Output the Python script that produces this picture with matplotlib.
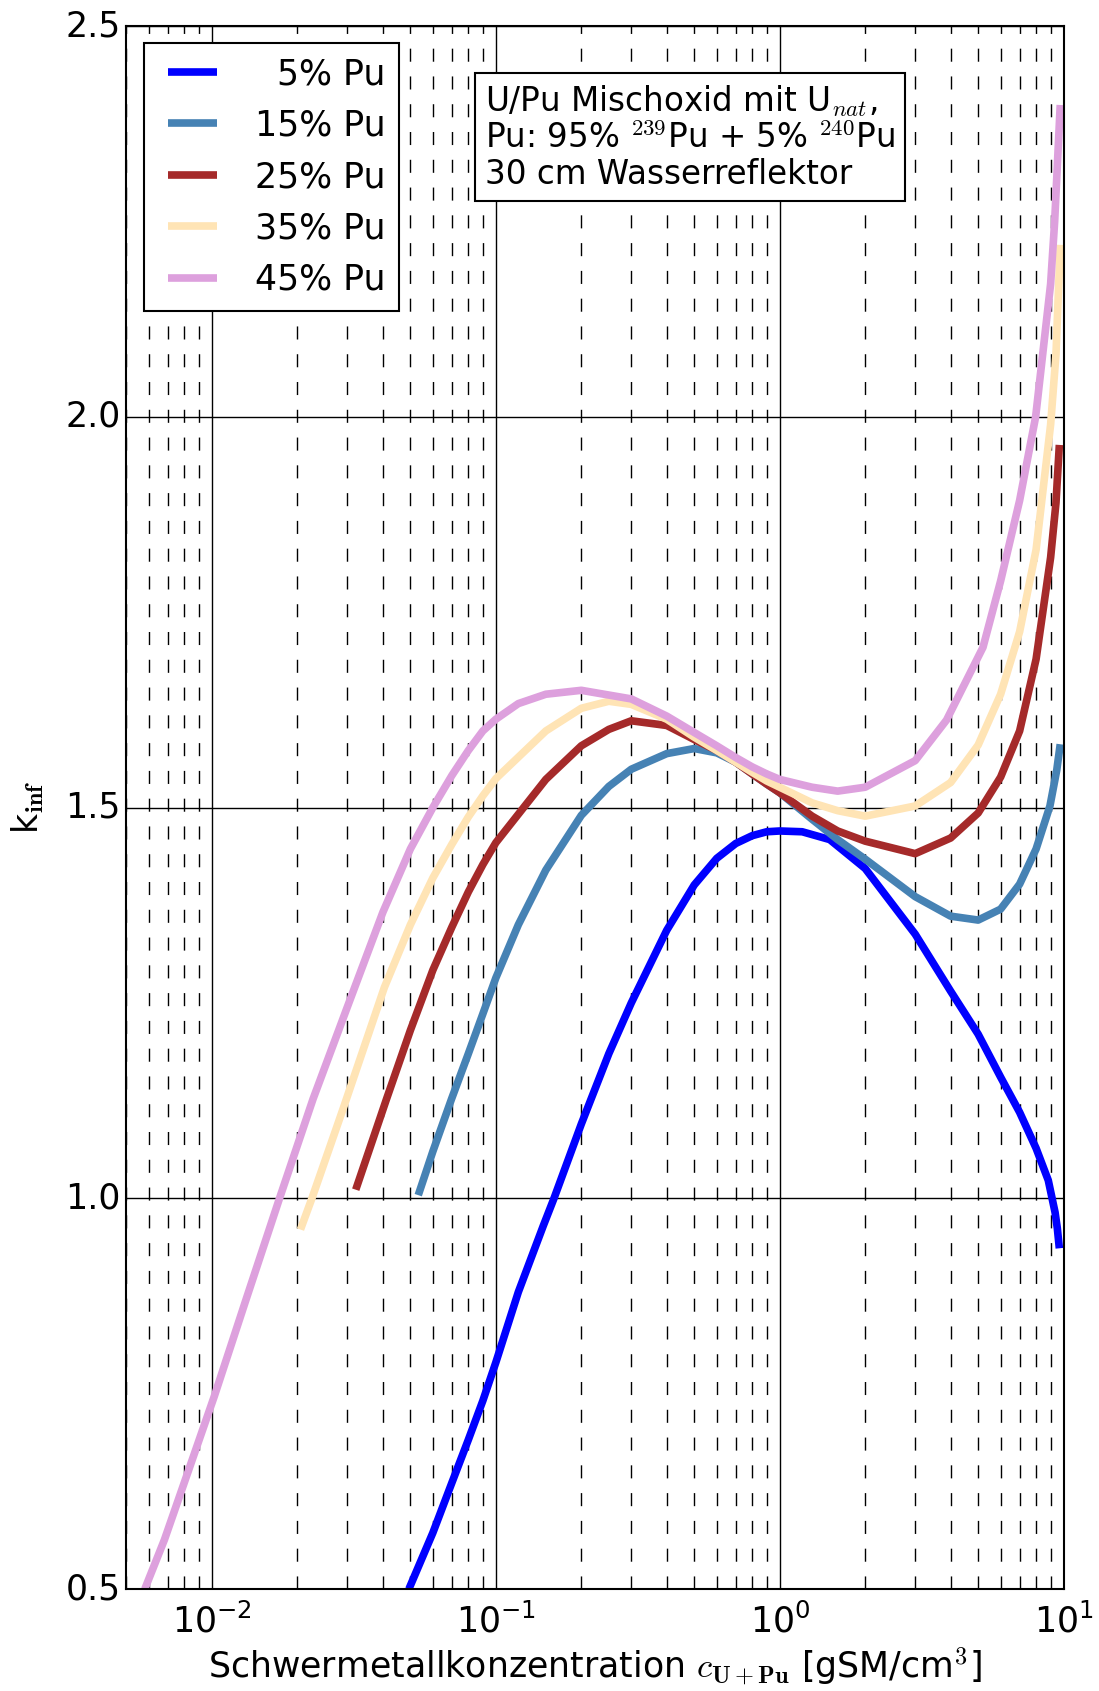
import numpy as np
import matplotlib
matplotlib.use("Agg")
import matplotlib.pyplot as plt

plt.style.use('classic')
plt.rcParams['figure.facecolor'] = 'white'
plt.rcParams['savefig.facecolor'] = 'white'
plt.rcParams['font.family'] = ['DejaVu Sans']
plt.rcParams['mathtext.fontset'] = 'cm'

# k_inf curves (x in gSM/cm^3)
x_5 = [0.0494, 0.06, 0.07, 0.08, 0.09, 0.1, 0.12, 0.147, 0.1603, 0.2, 0.25,
       0.3, 0.4, 0.5, 0.6, 0.7, 0.8, 0.9, 1.0, 1.2, 1.5, 2.0,
       3.0, 4.0, 5.0, 6.0, 7.0, 8.0, 8.83, 9.33, 9.5, 9.66]
k_5 = [0.500, 0.572, 0.636, 0.691, 0.741, 0.790, 0.880, 0.965, 1.000, 1.095, 1.185,
       1.250, 1.343, 1.401, 1.435, 1.454, 1.464, 1.469, 1.470, 1.469, 1.459, 1.422,
       1.338, 1.265, 1.210, 1.155, 1.110, 1.064, 1.023, 0.982, 0.962, 0.936]

x_15 = [0.0533, 0.06, 0.0698, 0.08, 0.09, 0.1, 0.12, 0.15, 0.2, 0.25, 0.3,
        0.4, 0.5, 0.6, 0.7, 0.8, 0.9, 1.0, 1.3, 1.6, 2.0,
        3.0, 4.0, 5.0, 6.0, 7.0, 8.0, 8.95, 9.46, 9.73]
k_15 = [1.004, 1.060, 1.127, 1.185, 1.236, 1.282, 1.350, 1.420, 1.490, 1.527, 1.549,
        1.569, 1.5755, 1.570, 1.558, 1.543, 1.530, 1.519, 1.485, 1.459, 1.434,
        1.386, 1.361, 1.356, 1.370, 1.402, 1.447, 1.502, 1.548, 1.581]

x_25 = [0.0321, 0.0412, 0.05, 0.06, 0.07, 0.08, 0.09, 0.1, 0.15, 0.2,
        0.25, 0.3, 0.4, 0.5, 0.6, 0.7, 0.8, 0.9, 1.0, 1.3, 1.6, 2.0,
        3.0, 4.0, 5.0, 6.0, 7.0, 8.0, 9.0, 9.4, 9.66]
k_25 = [1.011, 1.127, 1.215, 1.292, 1.347, 1.392, 1.427, 1.455, 1.536, 1.579,
        1.600, 1.611, 1.605, 1.587, 1.573, 1.558, 1.543, 1.530, 1.519, 1.489, 1.470, 1.457,
        1.441, 1.461, 1.493, 1.539, 1.598, 1.690, 1.820, 1.890, 1.964]

x_35 = [0.0205, 0.0225, 0.029, 0.0405, 0.05, 0.06, 0.07, 0.08, 0.09, 0.1, 0.15,
        0.2, 0.25, 0.3, 0.4, 0.5, 0.6, 0.7, 0.8, 0.9, 1.0, 1.3, 1.6, 2.0,
        3.0, 4.0, 5.0, 6.0, 7.0, 8.0, 9.0, 9.4, 9.73]
k_35 = [0.960, 1.000, 1.115, 1.270, 1.350, 1.410, 1.453, 1.488, 1.515, 1.537, 1.598,
        1.627, 1.636, 1.632, 1.613, 1.590, 1.573, 1.558, 1.545, 1.534, 1.526, 1.506, 1.496, 1.489,
        1.502, 1.532, 1.580, 1.645, 1.725, 1.830, 1.990, 2.080, 2.220]

x_45 = [0.0058, 0.0068, 0.0102, 0.0132, 0.0173, 0.0227, 0.03, 0.04, 0.05, 0.06, 0.07,
        0.08, 0.09, 0.1, 0.12, 0.15, 0.2, 0.3, 0.4, 0.5, 0.6, 0.7, 0.8, 0.9, 1.0, 1.3, 1.6,
        2.0, 3.0, 3.87, 5.2, 6.0, 7.0, 7.97, 9.0, 9.3, 9.73]
k_45 = [0.500, 0.563, 0.747, 0.871, 1.000, 1.127, 1.245, 1.366, 1.447, 1.500, 1.541,
        1.573, 1.598, 1.613, 1.633, 1.645, 1.650, 1.639, 1.617, 1.596, 1.579, 1.564, 1.552, 1.543, 1.536,
        1.526, 1.521, 1.526, 1.560, 1.612, 1.705, 1.790, 1.893, 2.000, 2.170, 2.250, 2.399]

labels = ['  5% Pu', '15% Pu', '25% Pu', '35% Pu', '45% Pu']
colors = ['blue', 'steelblue', 'brown', 'moccasin', 'plum']
series = [(x_5, k_5), (x_15, k_15), (x_25, k_25), (x_35, k_35), (x_45, k_45)]

fig = plt.figure(figsize=(10.99, 16.91), dpi=100)
ax = fig.add_axes([0.1151, 0.0603, 0.8527, 0.9243])

for (xs, ks), lab, col in zip(series, labels, colors):
    ax.plot(xs, ks, color=col, lw=5.5, label=lab,
            solid_capstyle='butt', solid_joinstyle='round')

ax.set_xscale('log')
ax.set_xlim(0.005, 10)
ax.set_ylim(0.5, 2.5)
ax.set_yticks([0.5, 1.0, 1.5, 2.0, 2.5])

ax.grid(which='major', color='k', linestyle='-', linewidth=1)
ax.grid(which='minor', axis='x', color='k', linestyle=(0, (9.4, 10.6)), linewidth=1)
ax.set_axisbelow(True)
for s in ax.spines.values():
    s.set_linewidth(1.5)

ax.tick_params(axis='both', which='major', labelsize=25)
ax.tick_params(axis='x', which='major', pad=10)

ax.set_xlabel(r'Schwermetallkonzentration $c_{\mathbf{U+Pu}}$ [gSM/cm$^3$]', fontsize=25)
ax.set_ylabel(r'k$_\mathbf{inf}$', fontsize=25, labelpad=14)

leg = ax.legend(loc='upper left', fontsize=25, handlelength=2.0, labelspacing=0.5)
leg.get_frame().set_linewidth(1.5)

ax.text(0.3826, 0.929,
        'U/Pu Mischoxid mit U$_{nat}$,\nPu: 95% $^{239}$Pu + 5% $^{240}$Pu\n30 cm Wasserreflektor',
        transform=ax.transAxes, fontsize=23.5, ha='left', va='center', linespacing=1.12,
        bbox=dict(boxstyle='square,pad=0.3', fc='white', ec='black', lw=1.5))

fig.savefig('out.png', dpi=100)
